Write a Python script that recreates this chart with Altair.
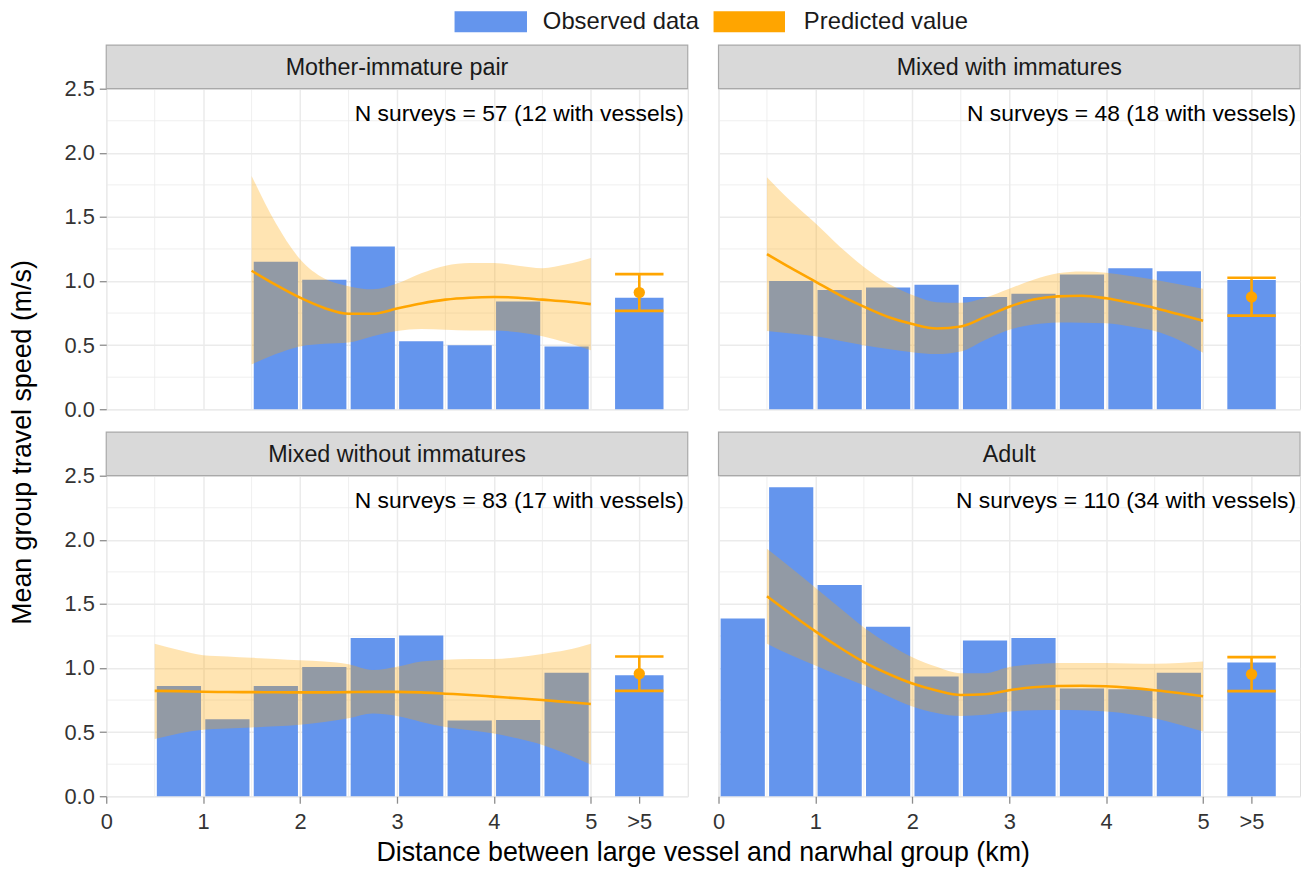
import altair as alt
import pandas as pd

# ---------------- data ----------------
groups = ["Mother-immature pair", "Mixed with immatures",
          "Mixed without immatures", "Adult"]
n_labels = ["N surveys = 57 (12 with vessels)", "N surveys = 48 (18 with vessels)",
            "N surveys = 83 (17 with vessels)", "N surveys = 110 (34 with vessels)"]

# 0.5-km distance bins (centres, km); 5.5 stands for the ">5" category
bin_centers = [0.25, 0.75, 1.25, 1.75, 2.25, 2.75, 3.25, 3.75, 4.25, 4.75]
gt5_pos = 5.5

obs_mip = [None, None, None, 1.15, 1.01, 1.27, 0.53, 0.50, 0.84, 0.49]
obs_mwi = [None, 1.00, 0.93, 0.95, 0.97, 0.875, 0.90, 1.05, 1.10, 1.077]
obs_mwo = [None, 0.86, 0.60, 0.86, 1.008, 1.235, 1.253, 0.59, 0.595, 0.964]
obs_adu = [1.387, 2.41, 1.647, 1.322, 0.933, 1.214, 1.235, 0.84, 0.835, 0.964]

obs_gt5 = [0.87, 1.008, 0.943, 1.044]
pred_gt5 = [0.91, 0.876, 0.956, 0.951]
pred_gt5_lo = [0.767, 0.73, 0.822, 0.82]
pred_gt5_hi = [1.054, 1.026, 1.09, 1.085]

curve_x = [0.5, 0.75, 1.0, 1.25, 1.5, 1.75, 2.0, 2.25, 2.5, 2.75,
           3.0, 3.25, 3.5, 3.75, 4.0, 4.25, 4.5, 4.75, 5.0]

fit_mip = [None, None, None, None, 1.08, 0.97, 0.87, 0.79, 0.745, 0.745,
           0.785, 0.825, 0.855, 0.87, 0.875, 0.87, 0.855, 0.84, 0.82]
up_mip = [None, None, None, None, 1.82, 1.45, 1.17, 1.02, 0.96, 0.935,
          0.98, 1.06, 1.12, 1.14, 1.14, 1.12, 1.10, 1.13, 1.18]
lo_mip = [None, None, None, None, 0.35, 0.43, 0.49, 0.51, 0.52, 0.57,
          0.61, 0.625, 0.62, 0.615, 0.615, 0.60, 0.57, 0.52, 0.46]

fit_mwi = [1.21, 1.10, 0.995, 0.89, 0.80, 0.72, 0.665, 0.63, 0.645, 0.72,
           0.80, 0.855, 0.88, 0.885, 0.865, 0.83, 0.79, 0.74, 0.69]
up_mwi = [1.81, 1.62, 1.45, 1.27, 1.11, 0.98, 0.89, 0.835, 0.83, 0.87,
          0.94, 1.01, 1.06, 1.075, 1.065, 1.04, 1.01, 0.975, 0.94]
lo_mwi = [0.61, 0.59, 0.57, 0.535, 0.50, 0.47, 0.445, 0.43, 0.45, 0.54,
          0.62, 0.66, 0.677, 0.675, 0.67, 0.645, 0.61, 0.54, 0.44]

fit_mwo = [0.822, 0.82, 0.815, 0.813, 0.812, 0.811, 0.81, 0.81, 0.812, 0.814,
           0.814, 0.81, 0.80, 0.79, 0.777, 0.764, 0.75, 0.735, 0.72]
up_mwo = [1.19, 1.14, 1.10, 1.09, 1.08, 1.07, 1.06, 1.05, 1.03, 0.985,
          1.01, 1.05, 1.065, 1.07, 1.07, 1.085, 1.11, 1.14, 1.19]
lo_mwo = [0.446, 0.49, 0.518, 0.528, 0.536, 0.545, 0.557, 0.58, 0.608, 0.645,
          0.625, 0.58, 0.54, 0.515, 0.49, 0.45, 0.40, 0.33, 0.247]

fit_adu = [1.56, 1.42, 1.286, 1.16, 1.046, 0.955, 0.879, 0.825, 0.79, 0.795,
           0.827, 0.85, 0.86, 0.862, 0.858, 0.845, 0.827, 0.805, 0.78]
up_adu = [1.93, 1.78, 1.626, 1.47, 1.317, 1.19, 1.085, 1.01, 0.96, 0.96,
          1.008, 1.03, 1.04, 1.04, 1.039, 1.035, 1.033, 1.04, 1.05]
lo_adu = [1.19, 1.10, 1.02, 0.94, 0.866, 0.78, 0.70, 0.65, 0.626, 0.635,
          0.66, 0.67, 0.673, 0.67, 0.66, 0.64, 0.608, 0.56, 0.505]

x_ticks = [0, 1, 2, 3, 4, 5, 5.5]
y_ticks = [0, 0.5, 1.0, 1.5, 2.0, 2.5]
x_minor = [0.5, 1.5, 2.5, 3.5, 4.5]
y_minor = [0.25, 0.75, 1.25, 1.75, 2.25]

obs_all = [obs_mip, obs_mwi, obs_mwo, obs_adu]
fit_all = [fit_mip, fit_mwi, fit_mwo, fit_adu]
up_all = [up_mip, up_mwi, up_mwo, up_adu]
lo_all = [lo_mip, lo_mwi, lo_mwo, lo_adu]

# ---------------- style ----------------
W, H = 586, 323
COL_GAP, ROW_GAP = 31, 67
BLUE, ORANGE = "#6495ED", "#FFA500"
FONT = "Liberation Sans"
GRID = "#ebebeb"
BORDER = "#a9a9a9"
TICK_FS = 22
HALF_BIN = 0.228     # half drawn width of a regular bar (km)
HALF_GT5 = 0.25      # half drawn width of the ">5" bar / caps (km)

xscale = alt.Scale(domain=[0, 6], nice=False, zero=False)
yscale = alt.Scale(domain=[0, 2.5], nice=False)


def panel(i):
    row, col = divmod(i, 2)
    g = groups[i]

    bars = pd.DataFrame({
        "c": bin_centers + [gt5_pos],
        "half": [HALF_BIN] * len(bin_centers) + [HALF_GT5],
        "v": obs_all[i] + [obs_gt5[i]],
    }).dropna()
    bars["lo"] = bars["c"] - bars["half"]
    bars["hi"] = bars["c"] + bars["half"]

    curve = pd.DataFrame({"x": curve_x, "fit": fit_all[i],
                          "lo": lo_all[i], "up": up_all[i]}).dropna()
    gt5 = pd.DataFrame({"x": [gt5_pos], "p": [pred_gt5[i]],
                        "lo": [pred_gt5_lo[i]], "hi": [pred_gt5_hi[i]]})
    caps = pd.DataFrame({"x0": [gt5_pos - HALF_GT5] * 2,
                         "x1": [gt5_pos + HALF_GT5] * 2,
                         "y": [pred_gt5_lo[i], pred_gt5_hi[i]]})
    info = pd.DataFrame({"group": [g], "n": [n_labels[i]]})

    if row == 1:
        xaxis = alt.Axis(values=x_ticks, title=None, grid=True, gridColor=GRID,
                         gridWidth=1.5, domain=False, ticks=True, tickSize=7,
                         tickColor="#8c8c8c", tickWidth=1.3,
                         labelExpr="datum.value == 5.5 ? '>5' : format(datum.value, 'd')",
                         labelFont=FONT, labelFontSize=TICK_FS, labelColor="#333333",
                         labelPadding=9, labelFlush=False, labelOverlap=False)
    else:
        xaxis = alt.Axis(values=x_ticks, title=None, grid=True, gridColor=GRID,
                         gridWidth=1.5, domain=False, ticks=False, labels=False)
    if col == 0:
        yaxis = alt.Axis(values=y_ticks, title=None, grid=True, gridColor=GRID,
                         gridWidth=1.5, domain=False, ticks=True, tickSize=7,
                         tickColor="#8c8c8c", tickWidth=1.3, format=".1f",
                         labelFont=FONT, labelFontSize=TICK_FS, labelColor="#333333",
                         labelPadding=5, labelFlush=False, labelOverlap=False)
    else:
        yaxis = alt.Axis(values=y_ticks, title=None, grid=True, gridColor=GRID,
                         gridWidth=1.5, domain=False, ticks=False, labels=False)

    def X(f):
        return alt.X(f, scale=xscale, axis=xaxis)

    def Y(f):
        return alt.Y(f, scale=yscale, axis=yaxis)

    layers = []
    layers.append(alt.Chart(pd.DataFrame({"x": x_minor})).mark_rule(
        color=GRID, strokeWidth=0.8).encode(x=X("x:Q")))
    layers.append(alt.Chart(pd.DataFrame({"y": y_minor})).mark_rule(
        color=GRID, strokeWidth=0.8).encode(y=Y("y:Q")))
    layers.append(alt.Chart(bars).mark_bar(color=BLUE).encode(
        x=X("lo:Q"), x2="hi:Q", y=Y("v:Q"), y2=alt.datum(0)))
    layers.append(alt.Chart(curve).mark_area(
        color=ORANGE, opacity=0.3, interpolate="monotone").encode(
        x=X("x:Q"), y=Y("lo:Q"), y2="up:Q"))
    layers.append(alt.Chart(curve).mark_line(
        color=ORANGE, strokeWidth=2.6, interpolate="monotone").encode(
        x=X("x:Q"), y=Y("fit:Q")))
    layers.append(alt.Chart(gt5).mark_rule(color=ORANGE, strokeWidth=2.6).encode(
        x=X("x:Q"), y=Y("lo:Q"), y2="hi:Q"))
    layers.append(alt.Chart(caps).mark_rule(color=ORANGE, strokeWidth=2.6).encode(
        x=X("x0:Q"), x2="x1:Q", y=Y("y:Q")))
    layers.append(alt.Chart(gt5).mark_circle(color=ORANGE, opacity=1, size=130).encode(
        x=X("x:Q"), y=Y("p:Q")))
    # annotation
    layers.append(alt.Chart(info).mark_text(
        align="right", baseline="alphabetic", font=FONT, fontSize=23,
        color="#000000").encode(
        x=alt.value(W - 4), y=alt.value(33), text="n:N"))
    # strip
    layers.append(alt.Chart(info).mark_rect(
        fill="#d9d9d9", stroke=BORDER, strokeWidth=1.2).encode(
        x=alt.value(0), x2=alt.value(W), y=alt.value(-44), y2=alt.value(0)))
    layers.append(alt.Chart(info).mark_text(
        align="center", baseline="alphabetic", font=FONT, fontSize=23.5,
        color="#1a1a1a").encode(
        x=alt.value(W / 2), y=alt.value(-13.5), text="group:N"))

    if i == 0:
        leg = pd.DataFrame({"obs": ["Observed data"], "pred": ["Predicted value"],
                            "ytitle": ["Mean group travel speed (m/s)"]})
        # invisible anchor fixing the left extent of the whole figure
        layers.append(alt.Chart(leg).mark_rect(opacity=0).encode(
            x=alt.value(-98), x2=alt.value(-97), y=alt.value(-80), y2=alt.value(-79)))
        layers.append(alt.Chart(leg).mark_rect(color=BLUE).encode(
            x=alt.value(351), x2=alt.value(424), y=alt.value(-78), y2=alt.value(-57)))
        layers.append(alt.Chart(leg).mark_rect(color=ORANGE).encode(
            x=alt.value(612), x2=alt.value(684), y=alt.value(-78), y2=alt.value(-57)))
        layers.append(alt.Chart(leg).mark_text(
            align="left", baseline="middle", font=FONT, fontSize=24,
            color="#1a1a1a").encode(x=alt.value(440), y=alt.value(-67.5), text="obs:N"))
        layers.append(alt.Chart(leg).mark_text(
            align="left", baseline="middle", font=FONT, fontSize=24,
            color="#1a1a1a").encode(x=alt.value(703), y=alt.value(-67.5), text="pred:N"))
        layers.append(alt.Chart(leg).mark_text(
            align="center", baseline="middle", font=FONT, fontSize=27, angle=270,
            color="#000000").encode(x=alt.value(-84), y=alt.value(H + ROW_GAP / 2),
                                    text="ytitle:N"))
    if i == 2:
        xt = pd.DataFrame({"xtitle": ["Distance between large vessel and narwhal group (km)"]})
        layers.append(alt.Chart(xt).mark_text(
            align="center", baseline="middle", font=FONT, fontSize=27,
            color="#000000").encode(x=alt.value(W + COL_GAP / 2), y=alt.value(H + 57),
                                    text="xtitle:N"))

    return alt.layer(*layers).properties(width=W, height=H)


chart = alt.concat(*[panel(i) for i in range(4)], columns=2,
                   spacing={"row": ROW_GAP, "column": COL_GAP},
                   bounds="flush").properties(
    padding={"left": 0, "top": -3, "right": 0, "bottom": 0}
).configure_view(stroke=BORDER, strokeWidth=1.2).configure(background="white")

chart.save("out.html", embed_options={"renderer": "svg", "actions": False})
